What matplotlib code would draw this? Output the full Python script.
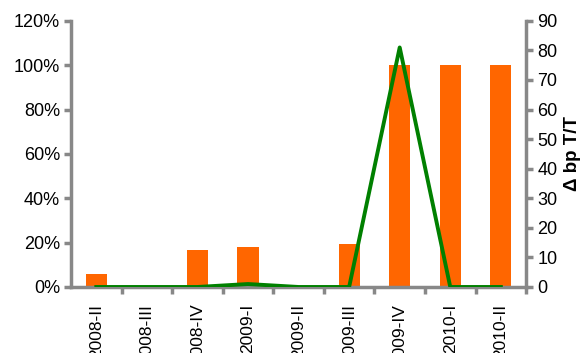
import numpy as np
import matplotlib.pyplot as plt
from matplotlib.ticker import FixedLocator, PercentFormatter

plt.rcParams['font.family'] = ['Liberation Sans', 'DejaVu Sans']

quarters = ['2008-II', '2008-III', '2008-IV', '2009-I', '2009-II',
            '2009-III', '2009-IV', '2010-I', '2010-II']
share_pct = [6, 0, 16.5, 18, 0, 19.5, 100, 100, 100]
delta_bp = [0, 0, 0, 1, 0, 0, 81, 0, 0]

axis_grey = '#888888'
x = np.arange(len(quarters))

fig = plt.figure(figsize=(5.82, 3.53), dpi=100)
ax = fig.add_axes([0.122, 0.187, 0.782, 0.754])
ax2 = ax.twinx()

ax.bar(x, share_pct, width=0.42, color='#FF6600', zorder=2)
ax2.plot(x, delta_bp, color='#008000', lw=2.8, zorder=3)

ax.set_xlim(-0.5, len(quarters) - 0.5)
ax.set_ylim(0, 120)
ax2.set_ylim(0, 90)
ax.set_yticks(np.arange(0, 121, 20))
ax.yaxis.set_major_formatter(PercentFormatter(decimals=0))
ax2.set_yticks(np.arange(0, 91, 10))

ax.set_xticks(x)
ax.set_xticklabels(quarters, rotation=90, va='top', ha='center')
ax.xaxis.set_minor_locator(FixedLocator(np.arange(0.5, len(quarters), 1)))
ax.tick_params(axis='x', which='major', length=0, pad=12, labelsize=12.5)
ax.tick_params(axis='x', which='minor', length=5, width=2.5, color=axis_grey)
ax.tick_params(axis='y', length=5, width=2.5, color=axis_grey, labelsize=13, pad=3)
ax2.tick_params(axis='y', length=5, width=2.5, color=axis_grey, labelsize=13, pad=3)

for a in (ax, ax2):
    a.spines['top'].set_visible(False)
    for s in ('left', 'right', 'bottom'):
        a.spines[s].set_color(axis_grey)
        a.spines[s].set_linewidth(2.5)
ax.spines['right'].set_visible(False)
ax2.spines['left'].set_visible(False)
ax2.spines['bottom'].set_visible(False)
ax.set_zorder(ax2.get_zorder() - 1)
ax2.patch.set_visible(False)

ax2.set_ylabel('Δ bp T/T', fontsize=13.5, fontweight='bold', labelpad=5)

fig.savefig('out.png', dpi=100)
